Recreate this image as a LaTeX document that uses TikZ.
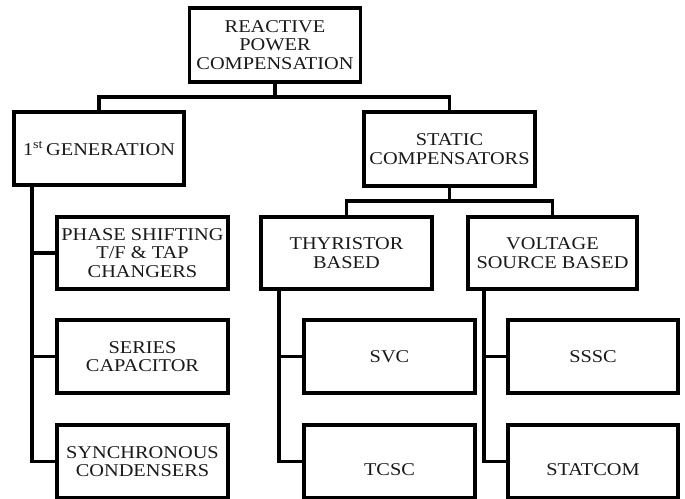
\documentclass[tikz,border=0pt]{standalone}
\usepackage{fontspec}
\setmainfont{Liberation Serif}[FakeStretch=1.13]
\begin{document}
\begin{tikzpicture}[x=1pt,y=-1pt,
  box/.style={draw=black, line width=3.5pt, minimum width=171pt, minimum height=73pt,
    inner sep=0pt, align=center, font=\fontsize{18}{18.5}\selectfont, text=black!90},
  low/.style={text height=28pt, text depth=0pt},
  conn/.style={draw=black, line width=3.5pt, line join=miter}]
\useasboundingbox (0,0) rectangle (685,498);
\node[box, minimum height=74pt] (root) at (275,45) {REACTIVE\\POWER\\COMPENSATION};
\node[box, minimum width=170pt] (gen) at (99,148.5) {1\textsuperscript{st}\,GENERATION};
\node[box, minimum height=74pt] (stat) at (449.5,149) {STATIC\\COMPENSATORS};
\node[box, minimum height=72pt] (ps) at (142.5,253) {PHASE SHIFTING\\T/F \& TAP\\CHANGERS};
\node[box] (sc) at (142.5,356.5) {SERIES\\CAPACITOR};
\node[box] (syn) at (142.5,461.5) {SYNCHRONOUS\\CONDENSERS};
\node[box, minimum height=72pt] (thy) at (346.5,253) {THYRISTOR\\BASED};
\node[box, minimum height=72pt, minimum width=169pt] (vsb) at (552.5,253) {VOLTAGE\\SOURCE BASED};
\node[box] (svc) at (389.5,356.5) {SVC};
\node[box, low] (tcsc) at (389.5,461.5) {TCSC};
\node[box, minimum width=170pt] (sssc) at (593,356.5) {SSSC};
\node[box, minimum width=170pt, low] (statcom) at (593,461.5) {STATCOM};
\coordinate (busA) at (0,97);
\coordinate (busB) at (0,201);
\coordinate (trG) at (32,0);
\coordinate (trT) at (279,0);
\coordinate (trV) at (484,0);
\draw[conn] (root.south) -- (root.south |- busA) -| (gen.north);
\draw[conn] (root.south |- busA) -| (stat.north);
\draw[conn] (stat.south) -- (stat.south |- busB) -| (thy.north);
\draw[conn] (stat.south |- busB) -| (vsb.north);
\draw[conn] (gen.south -| trG) |- (ps.west);
\draw[conn] (gen.south -| trG) |- (sc.west);
\draw[conn] (gen.south -| trG) |- (syn.west);
\draw[conn] (thy.south -| trT) |- (svc.west);
\draw[conn] (thy.south -| trT) |- (tcsc.west);
\draw[conn] (vsb.south -| trV) |- (sssc.west);
\draw[conn] (vsb.south -| trV) |- (statcom.west);
\end{tikzpicture}
\end{document}
